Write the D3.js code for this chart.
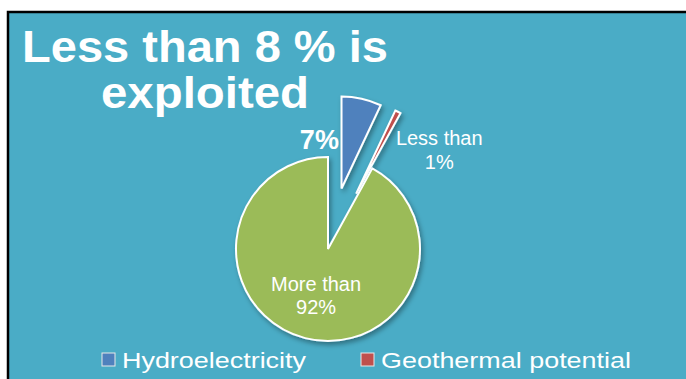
<!DOCTYPE html>
<html lang="en">
<head>
  <meta charset="UTF-8">
  <title>Less than 8 % is exploited</title>
  <script src="https://d3js.org/d3.v7.min.js"></script>
  <style>
    body {
      margin: 0;
      background-color: #ffffff;
      font-family: "Liberation Sans", Arial, sans-serif;
    }
    .slice path {
      stroke: #ffffff;
      stroke-width: 2px;
    }
    .label {
      fill: #ffffff;
      text-anchor: middle;
    }
  </style>
</head>
<body>

<div id="chart"></div>

<script>
  // data
  const categories = ["Hydroelectricity", "Geothermal potential", "Unexploited"];
  const shares = [7, 1, 92];
  const sliceLabels = [["7%"], ["Less than", "1%"], ["More than", "92%"]];
  const legendItems = ["Hydroelectricity", "Geothermal potential"];
  const titleLines = ["Less than 8 % is", "exploited"];

  const width = 686;
  const height = 379;
  const cx = 328, cy = 249, radius = 92;
  const explode = [62, 62, 0];

  const color = d3.scaleOrdinal()
    .domain(categories)
    .range(["#4f81bd", "#c0504d", "#9bbb59"]);

  const svg = d3.select("#chart")
    .append("svg")
    .attr("width", width)
    .attr("height", height);

  const defs = svg.append("defs");
  defs.append("filter")
    .attr("id", "shadow")
    .attr("x", "-20%").attr("y", "-20%")
    .attr("width", "140%").attr("height", "140%")
    .append("feDropShadow")
    .attr("dx", 2).attr("dy", 3)
    .attr("stdDeviation", 2.5)
    .attr("flood-color", "#000")
    .attr("flood-opacity", 0.35);

  // panel with black frame
  svg.append("rect")
    .attr("x", 8).attr("y", 12)
    .attr("width", width + 10).attr("height", height + 10)
    .attr("fill", "#4aacc6")
    .attr("stroke", "#000")
    .attr("stroke-width", 2.5);

  // title
  const titleWidths = [366, 208];
  svg.selectAll(".title")
    .data(titleLines)
    .enter()
    .append("text")
    .attr("class", "title")
    .attr("x", 205)
    .attr("y", (d, i) => 62 + i * 46)
    .attr("text-anchor", "middle")
    .attr("fill", "#ffffff")
    .attr("font-size", 45)
    .attr("font-weight", "bold")
    .attr("textLength", (d, i) => titleWidths[i])
    .attr("lengthAdjust", "spacingAndGlyphs")
    .text(d => d);

  const pie = d3.pie().sort(null).value(d => d);
  const arcs = pie(shares);
  const arc = d3.arc().innerRadius(0).outerRadius(radius);

  const g = svg.append("g")
    .attr("transform", `translate(${cx},${cy})`);

  const slice = g.selectAll(".slice")
    .data(arcs)
    .enter()
    .append("g")
    .attr("class", "slice")
    .attr("filter", "url(#shadow)")
    .attr("transform", (d, i) => {
      const a = (d.startAngle + d.endAngle) / 2;
      return `translate(${Math.sin(a) * explode[i]},${-Math.cos(a) * explode[i]})`;
    });

  slice.append("path")
    .attr("d", arc)
    .attr("fill", (d, i) => color(categories[i]));

  // data labels: polar placement (angle in degrees, distance from centre)
  const labelPlace = [
    { angle: -4.5, dist: 110, size: 27, weight: "bold" },
    { angle: 48.3, dist: 149, size: 20, weight: "normal" },
    { angle: 194.4, dist: 48, size: 20, weight: "normal" }
  ];

  arcs.forEach((d, i) => {
    const p = labelPlace[i];
    const a = p.angle * Math.PI / 180;
    const lx = Math.sin(a) * p.dist;
    const ly = -Math.cos(a) * p.dist;
    const lines = sliceLabels[i];
    const lineH = p.size * 1.18;
    const t = g.append("text")
      .attr("class", "label")
      .attr("font-size", p.size)
      .attr("font-weight", p.weight)
      .attr("x", lx)
      .attr("y", ly - (lines.length - 1) * lineH / 2 + p.size * 0.35);
    lines.forEach((line, j) => {
      t.append("tspan")
        .attr("x", lx)
        .attr("dy", j === 0 ? 0 : lineH)
        .text(line);
    });
  });

  // legend
  const legendX = [102, 361];
  const legendW = [184, 250];
  const legend = svg.selectAll(".legend")
    .data(legendItems)
    .enter()
    .append("g")
    .attr("class", "legend")
    .attr("transform", (d, i) => `translate(${legendX[i]},353)`);

  legend.append("rect")
    .attr("width", 13)
    .attr("height", 13)
    .attr("fill", d => color(d))
    .attr("stroke", "#e8e8e8")
    .attr("stroke-width", 1);

  legend.append("text")
    .attr("x", 20)
    .attr("y", 15)
    .attr("fill", "#ffffff")
    .attr("font-size", 22)
    .attr("textLength", (d, i) => legendW[i])
    .attr("lengthAdjust", "spacingAndGlyphs")
    .text(d => d);
</script>

</body>
</html>
